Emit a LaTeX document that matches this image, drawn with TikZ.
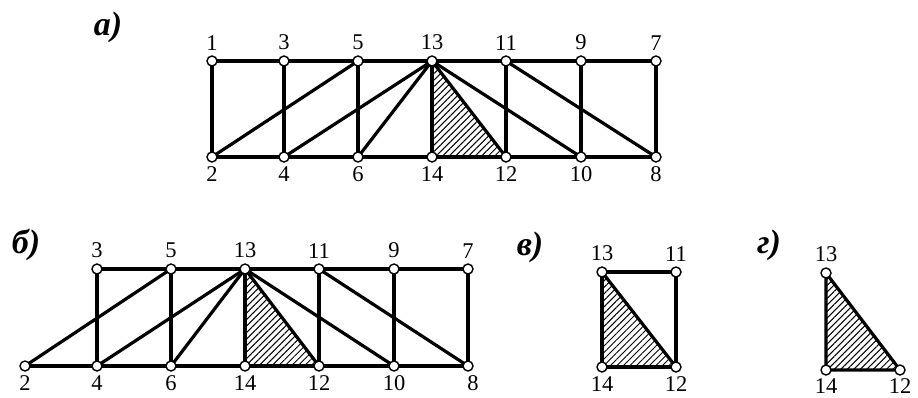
\documentclass[tikz,border=0pt]{standalone}
\usepackage{fontspec}
\setmainfont{Liberation Serif}
\usepackage{tikz}
\usetikzlibrary{patterns.meta, backgrounds}

\begin{document}
\begin{tikzpicture}[
  x=1pt, y=-1pt,
  joint/.style={circle, draw=black, fill=white, line width=1.4pt, minimum size=10pt, inner sep=0pt},
  up/.style={label={[num, label distance=5pt]above:#1}},
  dn/.style={label={[num, label distance=4pt]below:#1}},
  num/.style={font=\fontsize{22.5}{22.5}\selectfont, inner sep=0pt},
  tag/.style={font=\fontsize{34}{34}\selectfont\bfseries\itshape, inner sep=0pt},
  bar/.style={line width=3.2pt},
  hatch/.style={pattern={Lines[angle=45, distance=4.6pt, line width=1pt]}}
]
\useasboundingbox (0,0) rectangle (918,397);

% Panel tags
\node[tag] (tagA) at (108,27) {а)};
\node[tag] (tagB) at (26,245) {б)};
\node[tag] (tagC) at (530,247) {в)};
\node[tag] (tagD) at (769,245) {г)};

% Nodes (a)
\node[joint, up=1] (a1) at (212,61) {};
\node[joint, up=3] (a3) at (284,61) {};
\node[joint, up=5] (a5) at (358,61) {};
\node[joint, up=13] (a13) at (432,61) {};
\node[joint, up=11] (a11) at (506,61) {};
\node[joint, up=9] (a9) at (581,61) {};
\node[joint, up=7] (a7) at (656,61) {};
\node[joint, dn=2] (a2) at (212,157) {};
\node[joint, dn=4] (a4) at (284,157) {};
\node[joint, dn=6] (a6) at (358,157) {};
\node[joint, dn=14] (a14) at (432,157) {};
\node[joint, dn=12] (a12) at (506,157) {};
\node[joint, dn=10] (a10) at (581,157) {};
\node[joint, dn=8] (a8) at (656,157) {};

% Nodes (b)
\node[joint, up=3] (b3) at (97,269) {};
\node[joint, up=5] (b5) at (171,269) {};
\node[joint, up=13] (b13) at (245,269) {};
\node[joint, up=11] (b11) at (319,269) {};
\node[joint, up=9] (b9) at (394,269) {};
\node[joint, up=7] (b7) at (468,269) {};
\node[joint, dn=2] (b2) at (25,366) {};
\node[joint, dn=4] (b4) at (97,366) {};
\node[joint, dn=6] (b6) at (171,366) {};
\node[joint, dn=14] (b14) at (245,366) {};
\node[joint, dn=12] (b12) at (319,366) {};
\node[joint, dn=10] (b10) at (394,366) {};
\node[joint, label={[num, label distance=4pt, xshift=5pt]below:8}] (b8) at (468,366) {};

% Nodes (c)
\node[joint, up=13] (c13) at (602,272) {};
\node[joint, up=11] (c11) at (676,272) {};
\node[joint, dn=14] (c14) at (602,367) {};
\node[joint, dn=12] (c12) at (676,367) {};

% Nodes (d)
\node[joint, up=13] (d13) at (826,273) {};
\node[joint, label={[num, label distance=2.5pt]below:14}] (d14) at (826,370) {};
\node[joint, label={[num, label distance=2.5pt]below:12}] (d12) at (900,370) {};

\begin{scope}[on background layer]
% Hatched triangles
\fill[hatch] (a13.center) -- (a14.center) -- (a12.center) -- cycle;
\fill[hatch] (b13.center) -- (b14.center) -- (b12.center) -- cycle;
\fill[hatch] (c13.center) -- (c14.center) -- (c12.center) -- cycle;
\fill[hatch] (d13.center) -- (d14.center) -- (d12.center) -- cycle;

% Bars (a)
\draw[bar] (a1.center) -- (a7.center);
\draw[bar] (a2.center) -- (a8.center);
\draw[bar] (a1.center) -- (a2.center);
\draw[bar] (a3.center) -- (a4.center);
\draw[bar] (a5.center) -- (a6.center);
\draw[bar] (a13.center) -- (a14.center);
\draw[bar] (a11.center) -- (a12.center);
\draw[bar] (a9.center) -- (a10.center);
\draw[bar] (a7.center) -- (a8.center);
\draw[bar] (a2.center) -- (a5.center);
\draw[bar] (a4.center) -- (a13.center);
\draw[bar] (a6.center) -- (a13.center);
\draw[bar] (a13.center) -- (a12.center);
\draw[bar] (a13.center) -- (a10.center);
\draw[bar] (a11.center) -- (a8.center);

% Bars (b)
\draw[bar] (b3.center) -- (b7.center);
\draw[bar] (b2.center) -- (b8.center);
\draw[bar] (b3.center) -- (b4.center);
\draw[bar] (b5.center) -- (b6.center);
\draw[bar] (b13.center) -- (b14.center);
\draw[bar] (b11.center) -- (b12.center);
\draw[bar] (b9.center) -- (b10.center);
\draw[bar] (b7.center) -- (b8.center);
\draw[bar] (b2.center) -- (b5.center);
\draw[bar] (b4.center) -- (b13.center);
\draw[bar] (b6.center) -- (b13.center);
\draw[bar] (b13.center) -- (b12.center);
\draw[bar] (b13.center) -- (b10.center);
\draw[bar] (b11.center) -- (b8.center);

% Bars (c)
\draw[bar] (c13.center) -- (c11.center) -- (c12.center) -- (c14.center) -- cycle;
\draw[bar] (c13.center) -- (c12.center);

% Bars (d)
\draw[bar] (d13.center) -- (d14.center) -- (d12.center) -- cycle;
\end{scope}

\end{tikzpicture}
\end{document}
